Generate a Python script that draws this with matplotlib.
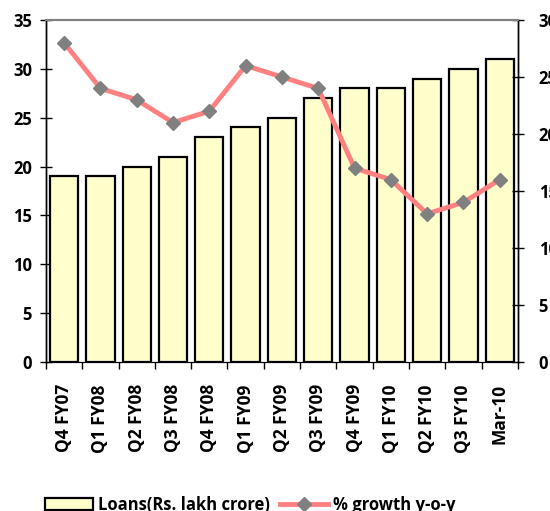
import matplotlib

matplotlib.use("Agg")
import matplotlib.pyplot as plt
import numpy as np
from matplotlib.lines import Line2D
from matplotlib.patches import Patch

quarters = ["Q4 FY07", "Q1 FY08", "Q2 FY08", "Q3 FY08", "Q4 FY08", "Q1 FY09", "Q2 FY09",
            "Q3 FY09", "Q4 FY09", "Q1 FY10", "Q2 FY10", "Q3 FY10", "Mar-10"]
loans = [19, 19, 20, 21, 23, 24, 25, 27, 28, 28, 29, 30, 31]
growth = [28, 24, 23, 21, 22, 26, 25, 24, 17, 16, 13, 14, 16]

plt.rcParams["font.family"] = ["Open Sans", "DejaVu Sans"]
plt.rcParams["font.weight"] = "bold"

fig = plt.figure(figsize=(5.5, 5.11), dpi=100)
ax = fig.add_axes([0.0836, 0.2916, 0.858, 0.6693])
ax2 = ax.twinx()

x = np.arange(len(quarters))
ax.bar(x, loans, 0.78, color="#FFFFCC", edgecolor="black", linewidth=1.6, zorder=2)
ax.set_xlim(-0.5, len(quarters) - 0.5)
ax.set_ylim(0, 35)
ax.set_yticks(range(0, 36, 5))
ax.set_xticks(x, quarters, rotation=90, fontsize=12.5, fontweight="bold")
ax.set_xticks(np.arange(-0.5, len(quarters)), minor=True)
ax.tick_params(axis="x", which="major", length=0, pad=16)
ax.tick_params(axis="x", which="minor", length=5, direction="out", width=1)
ax.tick_params(axis="y", length=8, direction="inout", width=1, labelsize=12, pad=6)

ax2.plot(x, growth, color="#FF8080", lw=3.5, marker="D", ms=7, mfc="#808080", mec="#808080", zorder=3)
ax2.set_ylim(0, 30)
ax2.set_yticks(range(0, 31, 5))
ax2.tick_params(axis="y", length=8, direction="inout", width=1, labelsize=12, pad=11)

for a in (ax, ax2):
    for lab in a.get_yticklabels():
        lab.set_fontweight("bold")
    a.spines["top"].set_color("#808080")
    a.spines["top"].set_linewidth(1.5)
    a.spines["left"].set_linewidth(1)
    a.spines["right"].set_linewidth(1)

handles = [
    Patch(facecolor="#FFFFCC", edgecolor="black", linewidth=1.6, label="Loans(Rs. lakh crore)"),
    Line2D([], [], color="#FF8080", lw=3.5, marker="D", ms=7, mfc="#808080", mec="#808080",
           label="% growth y-o-y"),
]
fig.legend(handles=handles, loc="center", bbox_to_anchor=(0.455, 0.012), ncol=2, frameon=False,
           prop={"weight": "bold", "size": 12}, handlelength=2.9, columnspacing=0.6, handletextpad=0.3)

fig.savefig("out.png", dpi=100)
